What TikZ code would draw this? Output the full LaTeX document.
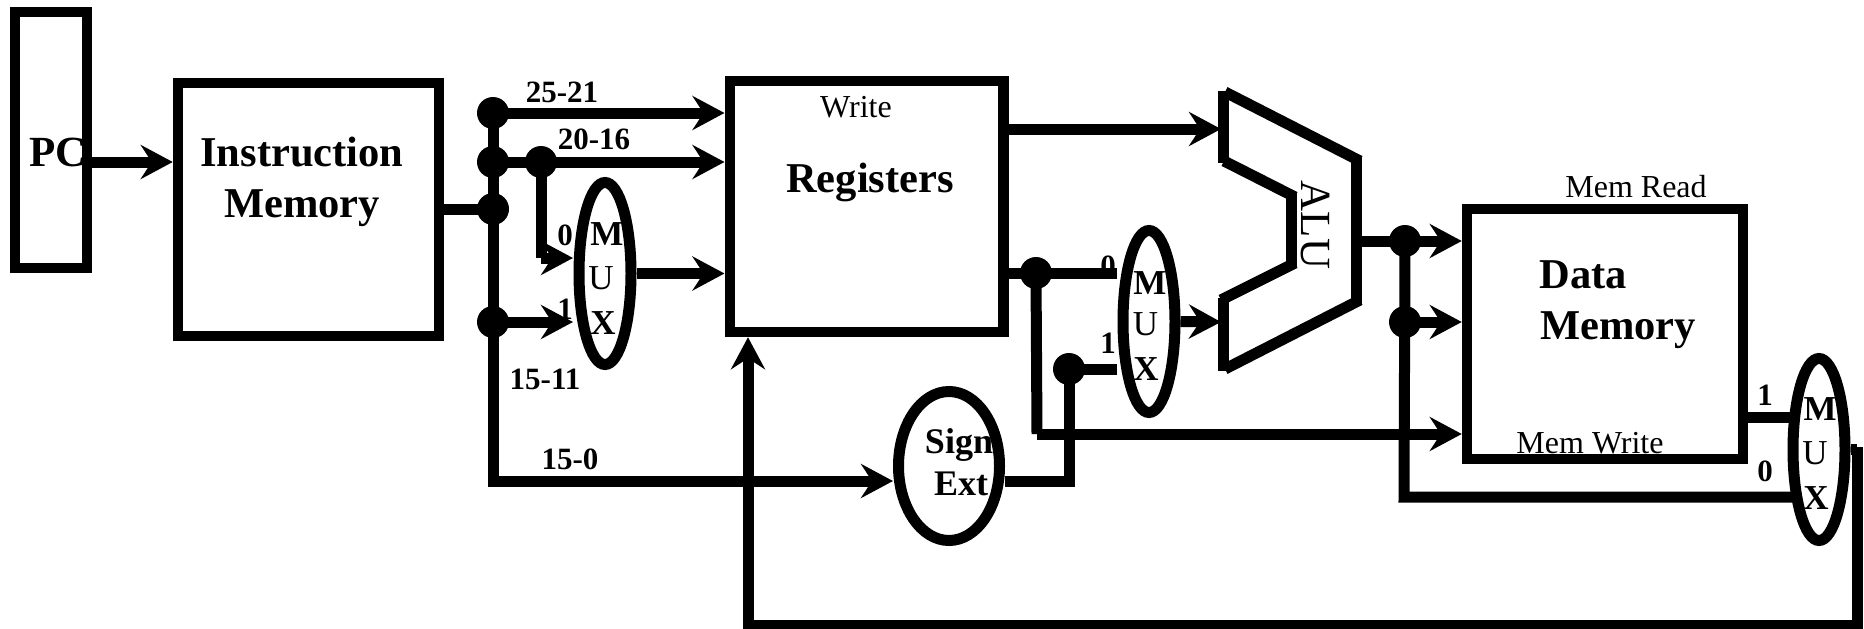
\documentclass[tikz,border=0pt]{standalone}
\usepackage{fontspec}
\setmainfont{Liberation Serif}
\usetikzlibrary{arrows.meta,shapes.geometric}
\tikzset{
  box/.style={draw,line width=10.5pt,inner sep=0pt},
  wire/.style={line width=11pt},
  arrowwire/.style={line width=11pt,-{Stealth[length=32pt,width=34pt,inset=11pt]}},
  dot/.style={circle,fill=black,inner sep=0pt,minimum size=32pt},
  oval/.style={ellipse,draw,line width=11pt,inner sep=0pt},
  muxoval/.style={oval,minimum width=52pt,minimum height=182pt},
  txt/.style={anchor=base,inner sep=0pt,align=center},
  big/.style={txt,font=\fontsize{42.5}{42.5}\selectfont\bfseries},
  mid/.style={txt,font=\fontsize{36}{36}\selectfont\bfseries},
  bits/.style={txt,font=\fontsize{31}{31}\selectfont\bfseries},
  thin/.style={txt,font=\fontsize{32}{32}\selectfont},
  muxb/.style={txt,font=\fontsize{35}{35}\selectfont\bfseries},
  muxr/.style={txt,font=\fontsize{35}{35}\selectfont}
}
\begin{document}
\begin{tikzpicture}[x=1pt,y=-1pt]
\useasboundingbox (0,0) rectangle (1864,629);
% blocks
\node[box,minimum width=72pt,minimum height=256pt] (pc) at (51,140) {};
\node[box,minimum width=261pt,minimum height=253pt] (imem) at (308.5,209.5) {};
\node[box,minimum width=273.5pt,minimum height=251pt] (regs) at (866.5,206.5) {};
\node[box,minimum width=276pt,minimum height=250pt] (dmem) at (1605,334) {};
\node[muxoval] (muxa) at (605,273.5) {};
\node[muxoval] (muxb) at (1149,321.5) {};
\node[muxoval] (muxc) at (1819,449.5) {};
\node[oval,minimum width=101pt,minimum height=149pt] (sign) at (949,466) {};
% junctions
\node[dot] (da) at (493,113) {};
\node[dot] (db) at (493,162) {};
\node[dot] (dc) at (493,209) {};
\node[dot] (dd) at (493,322) {};
\node[dot] (de) at (541,162) {};
\node[dot] (df) at (1036,273) {};
\node[dot] (dg) at (1069,369) {};
\node[dot] (dh) at (1405,241) {};
\node[dot] (di) at (1405,322) {};
% free ends
\coordinate (trunkend) at (493,481);
\coordinate (alutop) at (1221,129);
\coordinate (alubot) at (1221,322);
\coordinate (aluout) at (1356,241);
\coordinate (regtop) at (1003,129);
\coordinate (muxazero) at (573,258);
\coordinate (muxaone) at (573,322);
\coordinate (muxbzero) at (1117,273);
\coordinate (muxbone) at (1117,369);
\coordinate (busa) at (1037,434);
\coordinate (signcorner) at (1069,481);
\coordinate (busb) at (1404,497);
\coordinate (muxcone) at (1790,417);
\coordinate (muxczero) at (1793,497);
\coordinate (fba) at (1857,447);
\coordinate (fbb) at (1857,625);
\coordinate (fbc) at (748,625);
% ALU outline, drawn as separate strokes
\draw[wire] (1223,91) -- (1223,163);
\draw[wire] (1225,92) -- (1360,161);
\draw[wire] (1356,156) -- (1356,305);
\draw[wire] (1360,300) -- (1225,369);
\draw[wire] (1223,298) -- (1223,371);
\draw[wire] (1224,161) -- (1295,197);
\draw[wire] (1291,192) -- (1291,268);
\draw[wire] (1295,263) -- (1221,300);
% connectors
\draw[arrowwire] (pc.east |- db) -- (imem.west |- db);
\draw[wire] (imem.east |- dc) -- (dc.center);
\draw[arrowwire] (da.center) -- (trunkend) -- (sign.west |- trunkend);
\draw[arrowwire] (da.center) -- (regs.west |- da);
\draw[arrowwire] (db.center) -- (regs.west |- db);
\draw[wire] (de.center) -- (de.center |- muxazero);
\draw[arrowwire] (de.center |- muxazero) -- (muxazero);
\draw[arrowwire] (dd.center) -- (muxaone);
\draw[arrowwire] (muxa.east) -- (regs.west |- muxa);
\draw[arrowwire] (regtop) -- (alutop);
\draw[wire] (regs.east |- df) -- (muxbzero);
\draw[wire] (df.center) -- (busa);
\draw[arrowwire] (busa) -- (dmem.west |- busa);
\draw[wire] (sign.east |- trunkend) -- (signcorner) -- (dg.center) -- (muxbone);
\draw[arrowwire] (muxb.east) -- (alubot);
\draw[wire] (aluout) -- (dh.center);
\draw[arrowwire] (dh.center) -- (dmem.west |- dh);
\draw[arrowwire] (di.center) -- (dmem.west |- di);
\draw[wire] (dh.center) -- (busb) -- (muxczero);
\draw[wire] (dmem.east |- muxcone) -- (muxcone);
\draw[wire] (muxc.east) -- (muxc.east -| fba);
\draw[arrowwire] (fba) -- (fbb) -- (fbc) -- (regs.south -| fbc);
% labels
\node[txt,font=\fontsize{43}{43}\selectfont\bfseries] (tpc) at (58,166) {PC};
\node[big] (ti) at (302,166) {Instruction};
\node[big] (tim) at (302,217) {Memory};
\node[big] (treg) at (870,192) {Registers};
\node[thin] (twrite) at (856,117) {Write};
\node[big] (tda) at (1583,288) {Data};
\node[big] (tdm) at (1618,339) {Memory};
\node[thin] (tmr) at (1636,197) {Mem Read};
\node[thin] (tmw) at (1590,453) {Mem Write};
\node[mid] (ts) at (959,453) {Sign};
\node[mid] (te) at (961,495) {Ext};
\node[bits] (l1) at (562,102) {25-21};
\node[bits] (l2) at (594,149) {20-16};
\node[bits] (l3) at (545,389) {15-11};
\node[bits] (l4) at (570,469) {15-0};
\node[bits] (za) at (565,245) {0};
\node[bits] (oa) at (565,319) {1};
\node[bits] (zb) at (1108,276) {0};
\node[bits] (ob) at (1108,353) {1};
\node[bits] (oc) at (1765,405) {1};
\node[bits] (zc) at (1765,481) {0};
\node[muxb] (ma) at (607,245) {M};
\node[muxr] (ua) at (601,289) {U};
\node[muxb] (xa) at (603,334) {X};
\node[muxb] (mb) at (1150,294) {M};
\node[muxr] (ub) at (1145.5,335) {U};
\node[muxb] (xb) at (1146,380) {X};
\node[muxb] (mc) at (1820,420) {M};
\node[muxr] (uc) at (1815,464) {U};
\node[muxb] (xc) at (1816,509) {X};
\node[inner sep=0pt,rotate=-90,font=\fontsize{43}{43}\selectfont] (talu) at (1315,225) {ALU};
\end{tikzpicture}
\end{document}
